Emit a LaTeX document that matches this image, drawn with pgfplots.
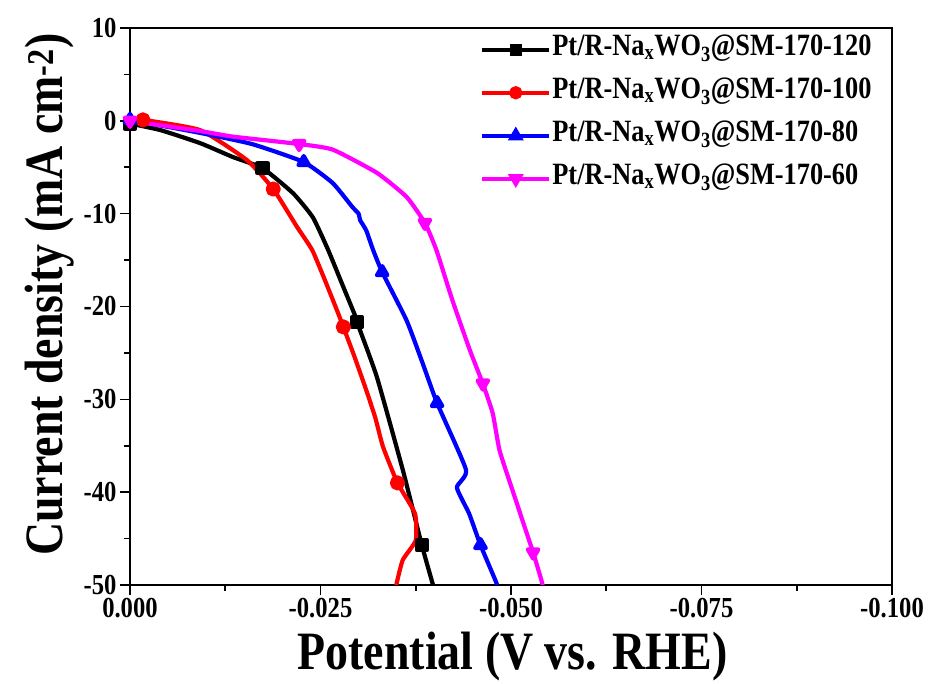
\documentclass[border=0pt]{standalone}
\usepackage{fontspec}
\setmainfont{Liberation Serif}[FakeStretch=0.85]
\usepackage{pgfplots}
\pgfplotsset{compat=1.18}
\definecolor{cblue}{RGB}{0,0,255}
\definecolor{cred}{RGB}{255,0,0}
\definecolor{cmag}{RGB}{255,0,255}
\begin{document}
\begin{tikzpicture}
\begin{axis}[
  at={(0,0)}, anchor=south west,
  scale only axis, width=762pt, height=557pt,
  x dir=reverse,
  xmin=-0.1, xmax=0, ymin=-50, ymax=10,
  xtick={0,-0.025,-0.05,-0.075,-0.1},
  xticklabels={0.000,-0.025,-0.050,-0.075,-0.100},
  ytick={10,0,-10,-20,-30,-40,-50},
  yticklabels={10,0,-10,-20,-30,-40,-50},
  minor x tick num=1, minor y tick num=1,
  xtick pos=bottom, ytick pos=left,
  tick align=outside,
  major tick length=10pt, minor tick length=6pt,
  axis line style={line width=1.6pt},
  every tick/.style={line width=1.6pt, black},
  ticklabel style={font=\bfseries\fontsize{29}{29}\selectfont},
  xlabel={Potential (V vs. RHE)},
  ylabel={Current density (mA cm\textsuperscript{-2})},
  label style={font=\bfseries\fontsize{54}{54}\selectfont},
  xlabel style={at={(axis description cs:0.502,-0.152)}, anchor=base},
  ylabel style={at={(axis description cs:-0.088,0.521)}, anchor=base, rotate=0},
  legend style={at={(axis description cs:0.4593,0.99)}, anchor=north west,
    draw=none, fill=none, inner sep=0pt,
    font=\bfseries\fontsize{31}{34}\selectfont,
    nodes={inner sep=1pt, text height=21pt, text depth=9pt},
    row sep=11pt},
  legend cell align=left,
  legend image code/.code={\draw[#1] (0pt,0pt) -- (67pt,0pt); \draw[#1] plot coordinates {(33.5pt,0pt)};},
]
\addplot[black, line width=4.2pt, line join=round, mark=square*, mark size=5pt, mark indices={1,5,11,14}, smooth, tension=0.3, forget plot] coordinates {
(0,-0.3) (-0.004,-1.0) (-0.0092,-2.4) (-0.0135,-3.9) (-0.0174,-5.1)
(-0.0214,-7.8) (-0.0240,-10.4) (-0.0260,-13.9) (-0.0278,-17.5) (-0.0295,-20.9)
(-0.0298,-21.7) (-0.0324,-27.6) (-0.0358,-37.6) (-0.0383,-45.7) (-0.0397,-49.8) (-0.0400,-50.5)};
\addplot[cred, line width=4.2pt, line join=round, mark=*, mark size=5.5pt, mark indices={2,5,10,15}, smooth, tension=0.3, forget plot] coordinates {
(0,0.0) (-0.0017,0.1) (-0.0092,-1.0) (-0.0153,-4.2) (-0.0188,-7.35)
(-0.0219,-11.4) (-0.0239,-13.9) (-0.0256,-17.2) (-0.0273,-20.7) (-0.0280,-22.2)
(-0.0295,-25.5) (-0.0310,-29.0) (-0.0322,-32.0) (-0.0332,-35.1) (-0.0351,-39.0)
(-0.0374,-42.3) (-0.0375,-45.2) (-0.0358,-47.3) (-0.0350,-49.8) (-0.0349,-50.5)};
\addplot[cblue, line width=4.2pt, line join=round, mark=triangle*, mark size=6pt, mark indices={1,4,11,14,18}, smooth, tension=0.3, forget plot] coordinates {
(0,0.1) (-0.0092,-1.3) (-0.0160,-2.5) (-0.0228,-4.44) (-0.0266,-6.7)
(-0.0292,-9.3) (-0.0300,-10.0) (-0.0302,-10.7) (-0.0310,-11.8) (-0.0319,-13.9)
(-0.0331,-16.3) (-0.0363,-21.5) (-0.0384,-26.1) (-0.0403,-30.4) (-0.0441,-37.6)
(-0.0429,-39.5) (-0.0445,-42.3) (-0.0460,-45.7) (-0.0481,-49.8) (-0.0482,-50.5)};
\addplot[cmag, line width=4.2pt, line join=round, mark=triangle*, mark size=6pt, mark options={rotate=180}, mark indices={1,4,8,12,16}, smooth, tension=0.3, forget plot] coordinates {
(0,0.0) (-0.0092,-1.1) (-0.0135,-1.7) (-0.0222,-2.5) (-0.0266,-3.1)
(-0.0324,-5.6) (-0.0363,-8.2) (-0.0387,-11.0) (-0.0402,-13.9) (-0.0423,-19.3)
(-0.0446,-24.7) (-0.0463,-28.3) (-0.0476,-31.5) (-0.0485,-35.5) (-0.0502,-39.8)
(-0.0529,-46.5) (-0.0541,-49.8) (-0.0542,-50.5)};
\addlegendimage{black, line width=4.2pt, mark=square*, mark size=4pt}
\addlegendentry{Pt/R-Na\textsubscript{x}WO\textsubscript{3}@SM-170-120}
\addlegendimage{cred, line width=4.2pt, mark=*, mark size=4.5pt}
\addlegendentry{Pt/R-Na\textsubscript{x}WO\textsubscript{3}@SM-170-100}
\addlegendimage{cblue, line width=4.2pt, mark=triangle*, mark size=5pt}
\addlegendentry{Pt/R-Na\textsubscript{x}WO\textsubscript{3}@SM-170-80}
\addlegendimage{cmag, line width=4.2pt, mark=triangle*, mark size=5pt, mark options={rotate=180}}
\addlegendentry{Pt/R-Na\textsubscript{x}WO\textsubscript{3}@SM-170-60}
\end{axis}
\pgfresetboundingbox
\path (-130pt,-99pt) rectangle (805pt,585pt);
\end{tikzpicture}
\end{document}
